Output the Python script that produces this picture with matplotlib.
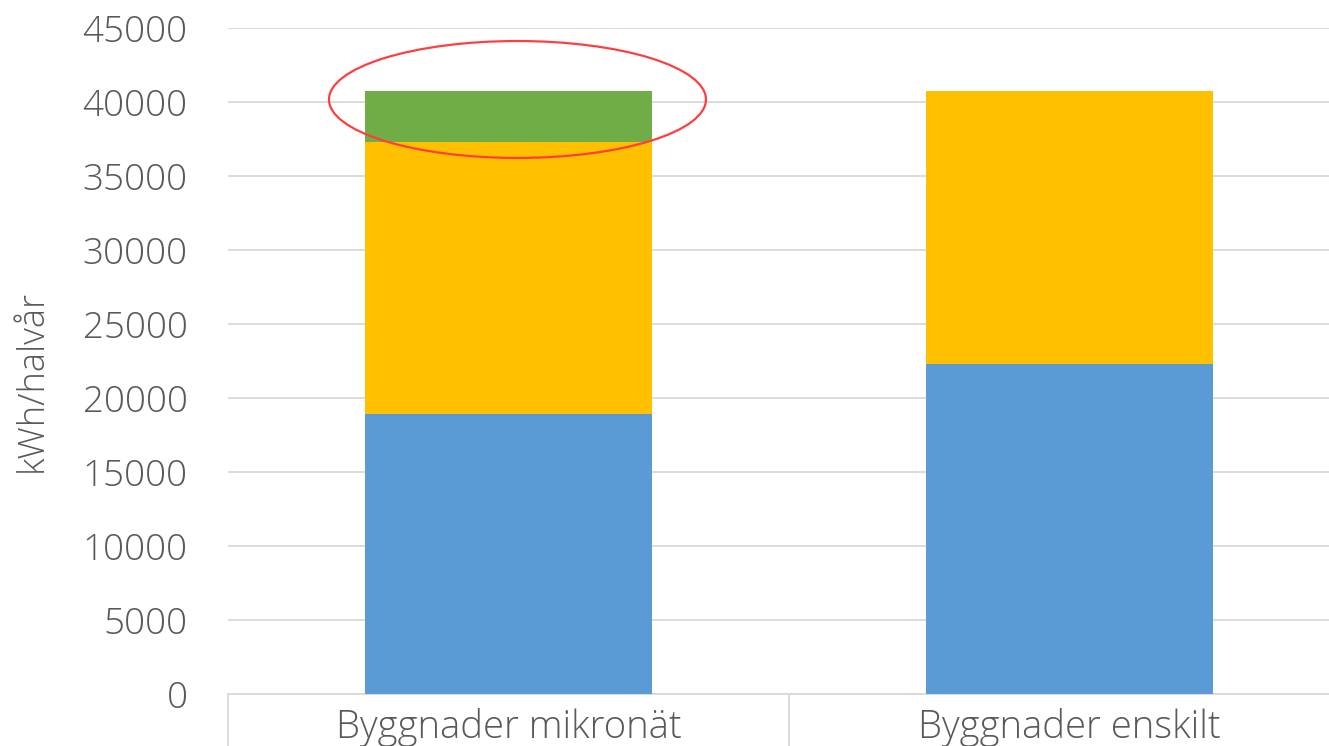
import matplotlib.pyplot as plt
from matplotlib.patches import Ellipse
import numpy as np

# data
categories = ["Byggnader mikronät", "Byggnader enskilt"]
blue_vals = [18900, 22300]
yellow_vals = [18400, 18400]
green_vals = [3400, 0]
y_ticks = [0, 5000, 10000, 15000, 20000, 25000, 30000, 35000, 40000, 45000]

plt.rcParams['font.family'] = ['Open Sans', 'DejaVu Sans']
grey = "#595959"

fig = plt.figure(figsize=(13.29, 7.46), dpi=100)
# plot area is cropped on the right in the original
ax = fig.add_axes([228/1329, 52.3/746, 1122/1329, 666/746])

x = np.arange(len(categories))
w = 0.51
blue = np.array(blue_vals)
yellow = np.array(yellow_vals)
green = np.array(green_vals)

ax.bar(x, blue, w, color="#5B9BD5", zorder=3)
ax.bar(x, yellow, w, bottom=blue, color="#FFC000", zorder=3)
ax.bar(x, green, w, bottom=blue + yellow, color="#70AD47", zorder=3)

ax.set_xlim(-0.5, 1.5)
ax.set_ylim(0, 45000)
ax.set_yticks(y_ticks)
ax.set_yticklabels([str(t) for t in y_ticks], fontsize=26.5, color=grey, fontweight="light")
ax.yaxis.grid(True, color="#D9D9D9", linewidth=1.3, zorder=0)
ax.tick_params(axis="y", length=0, pad=29)

ax.set_xticks(x)
ax.set_xticklabels(categories, fontsize=27.5, color=grey, fontweight="light")
ax.tick_params(axis="x", which="major", length=0, pad=10)
ax.set_xticks([-0.5, 0.5, 1.5], minor=True)
ax.tick_params(axis="x", which="minor", length=40, color="#D9D9D9", width=1.3)

for s in ["top", "right", "left"]:
    ax.spines[s].set_visible(False)
ax.spines["bottom"].set_color("#D9D9D9")
ax.spines["bottom"].set_linewidth(1.3)

ax.set_ylabel("kWh/halvår", fontsize=26, color=grey, fontweight="light")
ax.yaxis.set_label_coords(-0.158, 0.47)

# red ellipse around the green segment
top0 = blue[0] + yellow[0] + green[0]
ell = Ellipse((x[0] + 0.016, top0 - 550), 0.672, 7900, fill=False,
              edgecolor="#FF3F3F", linewidth=1.6, zorder=5)
ax.add_patch(ell)

fig.savefig("out.png", dpi=100)
